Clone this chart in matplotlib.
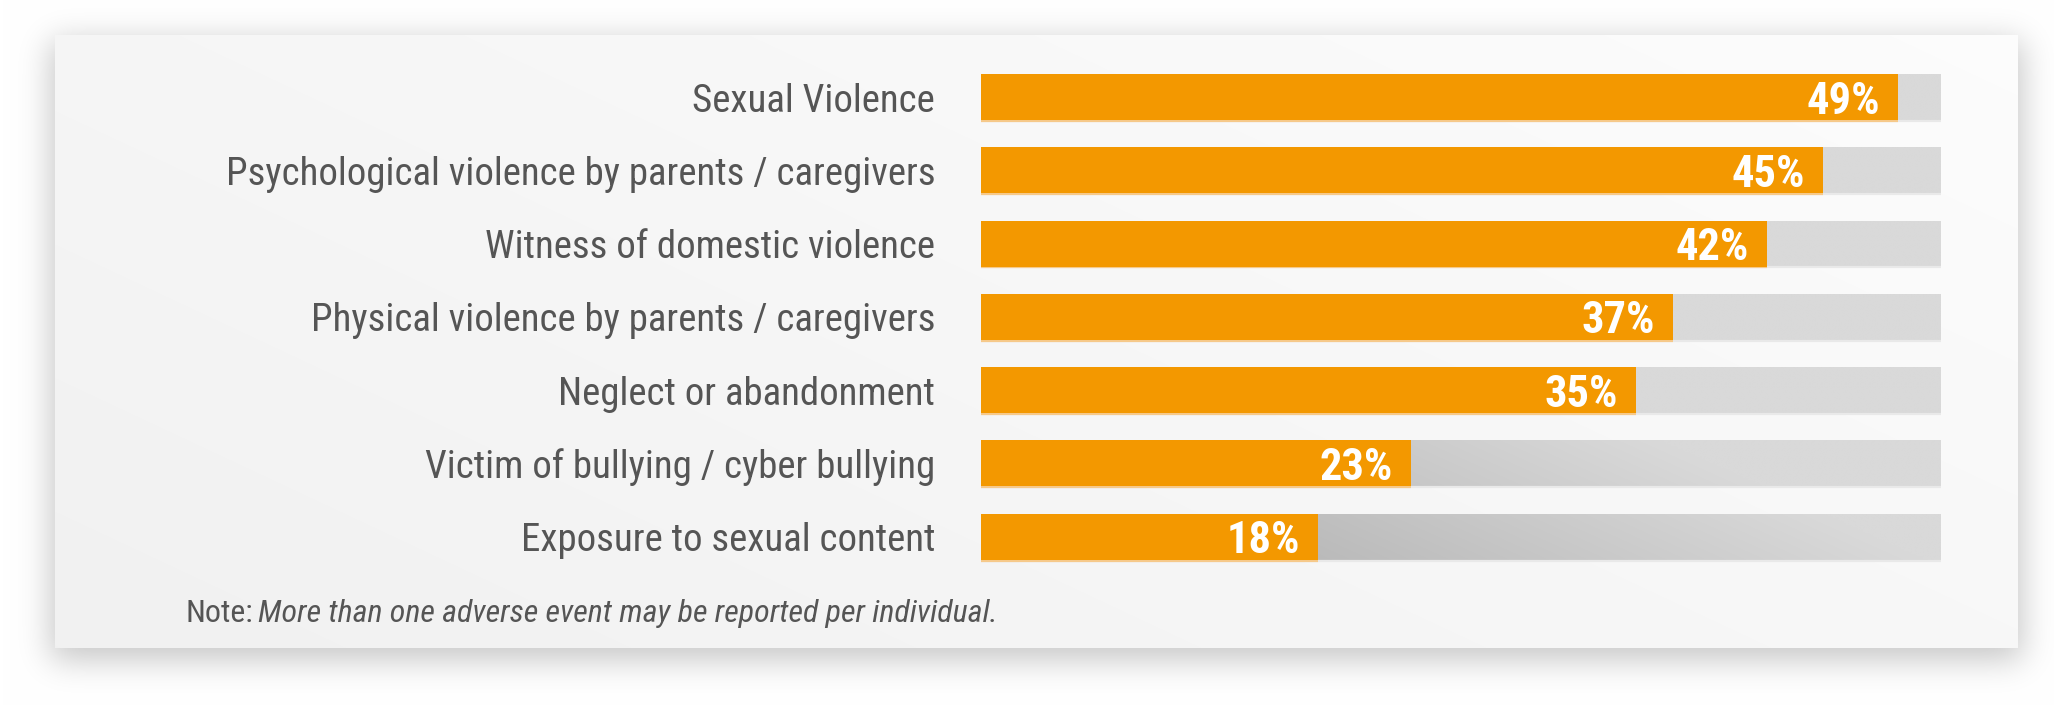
import numpy as np
import matplotlib
matplotlib.use("Agg")
import matplotlib.pyplot as plt

# ---------------- data ----------------
categories = [
    "Sexual Violence",
    "Psychological violence by parents / caregivers",
    "Witness of domestic violence",
    "Physical violence by parents / caregivers",
    "Neglect or abandonment",
    "Victim of bullying / cyber bullying",
    "Exposure to sexual content",
]
values = [49, 45, 42, 37, 35, 23, 18]
track_max = 51.3          # extent of the grey background track (same % scale)
note_label = "Note:"
note_text = "More than one adverse event may be reported per individual."

# ---------------- style ----------------
W, H = 2054, 705
DPI = 100
ORANGE = "#f39800"
TRACK = 217 / 255
TEXT = "#555555"
FONT = ["Roboto Condensed", "Liberation Sans", "DejaVu Sans"]
plt.rcParams["font.family"] = FONT

fig = plt.figure(figsize=(W / DPI, H / DPI), dpi=DPI)
fig.patch.set_facecolor("white")

# ---------------- background panel with soft shadow ----------------
def blur1d(a, sigma, axis):
    r = int(3 * sigma)
    k = np.exp(-0.5 * (np.arange(-r, r + 1) / sigma) ** 2)
    k /= k.sum()
    pad = [(0, 0)] * a.ndim
    pad[axis] = (r, r)
    ap = np.pad(a, pad, mode="edge")
    out = np.zeros_like(a)
    n = a.shape[axis]
    for i, w in enumerate(k):
        sl = [slice(None)] * a.ndim
        sl[axis] = slice(i, i + n)
        out += w * ap[tuple(sl)]
    return out

px0, px1, py0, py1 = 55, 2018, 35, 648
yy, xx = np.mgrid[0:H, 0:W]
panel = (xx >= px0) & (xx < px1) & (yy >= py0) & (yy < py1)
shadow = ((xx >= px0 - 4) & (xx < px1 + 4) & (yy >= py0 + 6) & (yy < py1 + 12)).astype(float)
shadow = blur1d(blur1d(shadow, 16, 0), 16, 1)
base = 1.0 - 0.22 * shadow
t = 0.6 * (xx - px0) / (px1 - px0) + 0.4 * (1 - (yy - py0) / (py1 - py0))
panel_col = 0.945 + 0.045 * np.clip(t, 0, 1)
img = np.where(panel, panel_col, base)
bg = fig.add_axes([0, 0, 1, 1], zorder=0)
bg.imshow(np.dstack([img] * 3), extent=[0, W, H, 0], aspect="auto", interpolation="bilinear")
bg.set_xlim(0, W)
bg.set_ylim(H, 0)
bg.axis("off")

# ---------------- bar axes ----------------
n = len(categories)
pitch = 73.3
first_c = 97.0
ax_top = first_c - pitch / 2
ax_bot = first_c + (n - 1) * pitch + pitch / 2
ax_l, ax_r = 981, 1941
ax = fig.add_axes([ax_l / W, 1 - ax_bot / H, (ax_r - ax_l) / W, (ax_bot - ax_top) / H], zorder=1)
ax.patch.set_alpha(0)
bar_h = 46 / pitch
y = np.arange(n)

# grey tracks with a soft diagonal shading (darker towards the lower left)
gx = np.linspace(0, track_max, 400)
gy = np.linspace(-0.5, n - 0.5, 300)
GX, GY = np.meshgrid(gx, gy)
d = np.clip(1 - ((GX - 17) / 35 + (6.5 - GY) / 4.0), 0, 1)
shade = TRACK - 0.13 * d
shade_rgb = np.dstack([shade] * 3)
tracks = ax.barh(y, track_max, height=bar_h, color="#d9d9d9", linewidth=0, zorder=1)
for p in tracks.patches:
    im = ax.imshow(shade_rgb, extent=[0, track_max, n - 0.5, -0.5], aspect="auto",
                   interpolation="bilinear", zorder=1.5)
    im.set_clip_path(p)
ax.set_xlim(0, track_max)
ax.set_ylim(n - 0.5, -0.5)

# thin light line under each bar
ax.hlines(y + bar_h / 2 + 0.012, 0, track_max, color="#e9e9e9", lw=1.6, zorder=1.6)
ax.hlines(y + bar_h / 2 + 0.012, 0, values, color="#f6c98a", lw=1.6, zorder=1.7)

ax.barh(y, values, height=bar_h, color=ORANGE, linewidth=0, zorder=2)

for yi, v in zip(y, values):
    ax.annotate(f"{v}%", xy=(v, yi), xytext=(-13, 0), textcoords="offset points",
                ha="right", va="center_baseline", color="white", fontsize=32,
                fontweight="bold", zorder=3)

ax.set_yticks(y)
ax.set_yticklabels(categories, fontsize=28, color=TEXT)
ax.tick_params(axis="y", length=0, pad=33)
ax.set_xticks([])
for s in ax.spines.values():
    s.set_visible(False)

# ---------------- note ----------------
nt = fig.text(186 / W, 1 - 622 / H, note_label, fontsize=23, color=TEXT,
              ha="left", va="baseline", zorder=3)
fig.canvas.draw()
ax.annotate(note_text, xy=(1, 0), xycoords=nt, xytext=(3, 0), textcoords="offset points",
            ha="left", va="bottom", fontsize=23, style="italic", color=TEXT,
            annotation_clip=False)

fig.savefig("out.png", dpi=DPI, facecolor="white")
